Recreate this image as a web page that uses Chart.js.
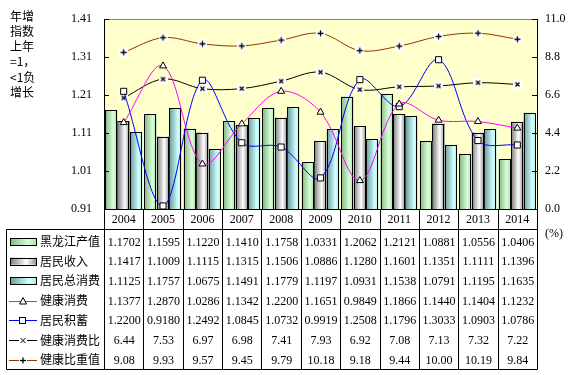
<!DOCTYPE html>
<html><head><meta charset="utf-8">
<script src="https://cdn.jsdelivr.net/npm/chart.js@4"></script>
<style>html,body{margin:0;padding:0;background:#fff;}canvas{display:block;}</style>
</head><body>
<canvas id="c" width="577" height="375"></canvas>
<script>
// ---------- data ----------
const years = ['2004','2005','2006','2007','2008','2009','2010','2011','2012','2013','2014'];
const hljOutput   = [1.1702,1.1595,1.1220,1.1410,1.1758,1.0331,1.2062,1.2121,1.0881,1.0556,1.0406];
const income      = [1.1417,1.1009,1.1115,1.1315,1.1506,1.0886,1.1280,1.1601,1.1351,1.1111,1.1396];
const totalCons   = [1.1125,1.1757,1.0675,1.1491,1.1779,1.1197,1.0931,1.1538,1.0791,1.1195,1.1635];
const healthCons  = [1.1377,1.2870,1.0286,1.1342,1.2200,1.1651,0.9849,1.1866,1.1440,1.1404,1.1232];
const savings     = [1.2200,0.9180,1.2492,1.0845,1.0732,0.9919,1.2508,1.1796,1.3033,1.0903,1.0786];
const healthRatio = [6.44,7.53,6.97,6.98,7.41,7.93,6.92,7.08,7.13,7.32,7.22];
const healthWeight= [9.08,9.93,9.57,9.45,9.79,10.18,9.18,9.44,10.00,10.19,9.84];
const leftTicks  = [0.91,1.01,1.11,1.21,1.31,1.41];
const rightTicks = [0,2.2,4.4,6.6,8.8,11];
const seriesNames = ['黑龙江产值','居民收入','居民总消费','健康消费','居民积蓄','健康消费比','健康比重值'];
const yTitleLines = ['年增','指数','上年','=1，','<1负','增长'];
const unitLabel = '(%)';

// ---------- styles ----------
const NUM_FONT = '12px "Liberation Serif"';
const CJK_FONT = '12px "Noto Sans CJK SC"';
const barGrads = [
  [[0,'#86b486'],[0.65,'#d6ffd6'],[1,'#b4dcb4']],
  [[0,'#7a7a7a'],[0.6,'#ffffff'],[1,'#8c8c8c']],
  [[0,'#6a9a9a'],[0.7,'#d2ffff'],[1,'#b4e6e6']]
];
function markImg(kind){
  const c=document.createElement('canvas'); c.width=9; c.height=9;
  const g=c.getContext('2d'); g.fillStyle='#fff'; g.fillRect(0,0,9,9);
  g.strokeStyle='#000'; g.lineWidth=1.3; g.beginPath();
  if(kind==='x'){g.moveTo(2.5,2.5);g.lineTo(6.5,6.5);g.moveTo(6.5,2.5);g.lineTo(2.5,6.5);}
  else {g.moveTo(4.5,1.5);g.lineTo(4.5,7.5);g.moveTo(1.5,4.5);g.lineTo(7.5,4.5);}
  g.stroke(); return c;
}
const xImg = markImg('x'), plusImg = markImg('+');

const rows = [
  {data:hljOutput, dec:4, key:'bar', k:0},
  {data:income, dec:4, key:'bar', k:1},
  {data:totalCons, dec:4, key:'bar', k:2},
  {data:healthCons, dec:4, key:'line', color:'#ff00ff', mark:'tri'},
  {data:savings, dec:4, key:'line', color:'#0000ff', mark:'sq'},
  {data:healthRatio, dec:2, key:'line', color:'#000000', mark:'x'},
  {data:healthWeight, dec:2, key:'line', color:'#993300', mark:'+'}
];

function hGrad(ctx, x0, x1, stops){
  const g = ctx.createLinearGradient(x0,0,x1,0);
  stops.forEach(s=>g.addColorStop(s[0],s[1]));
  return g;
}

const decoPlugin = {
  id:'deco',
  beforeDraw(chart){
    const {ctx, chartArea:ca} = chart;
    ctx.save(); ctx.fillStyle='#ffffcc';
    ctx.fillRect(ca.left, ca.top, ca.right-ca.left, ca.bottom-ca.top);
    ctx.restore();
  },
  beforeDatasetDraw(chart, args){
    const ds = chart.data.datasets[args.index];
    if (ds.type !== 'bar') return;
    const ctx = chart.ctx, ca = chart.chartArea;
    ctx.save();
    ctx.beginPath(); ctx.rect(ca.left, ca.top, ca.right-ca.left, ca.bottom-ca.top); ctx.clip();
    args.meta.data.forEach(el=>{
      const {x,y,base,width} = el.getProps(['x','y','base','width'], true);
      const b = Math.min(base, ca.bottom);
      const l = x - width/2, r = x + width/2;
      const top = Math.min(y,b), h = Math.abs(b-y);
      ctx.fillStyle = hGrad(ctx, l, r, barGrads[ds.gradIndex]);
      ctx.fillRect(l, top, width, h);
      ctx.strokeStyle='#000'; ctx.lineWidth=1;
      ctx.strokeRect(Math.round(l)+0.5, Math.round(top)+0.5, Math.round(width)-1, Math.round(h)+1);
    });
    ctx.restore();
    return false;
  },
  afterDraw(chart){
    const {ctx, chartArea:ca, scales} = chart;
    const xs = scales.x, ys = scales.y, ys1 = scales.y1;
    const n = years.length;
    const cw = (ca.right - ca.left)/n;
    const tableTop = 229.5, tableBottom = 369.5, tableLeft = 6.5;
    const rowH = 19.7, row0 = 241.5;
    const line=(a,b,c,d)=>{ctx.beginPath();ctx.moveTo(a,b);ctx.lineTo(c,d);ctx.stroke();};
    ctx.save();
    // top border gray
    ctx.strokeStyle='#808080'; ctx.lineWidth=1;
    line(ca.left, Math.round(ca.top)+0.5, ca.right, Math.round(ca.top)+0.5);
    // inward ticks
    ctx.strokeStyle='#000';
    leftTicks.forEach(v=>{const y=Math.round(ys.getPixelForValue(v))+0.5; line(ca.left, y, ca.left+5, y);});
    rightTicks.forEach(v=>{const y=Math.round(ys1.getPixelForValue(v))+0.5; line(ca.right-5, y, ca.right, y);});
    // table grid
    for(let i=0;i<=n;i++){
      const xp = i<n ? xs.getPixelForValue(i) - cw/2 : xs.getPixelForValue(n-1) + cw/2;
      const x = Math.round(xp)+0.5;
      line(x, ca.bottom, x, tableBottom);
    }
    line(tableLeft, tableTop, ca.right+0.5, tableTop);
    line(tableLeft, tableBottom, ca.right+0.5, tableBottom);
    line(tableLeft, tableTop, tableLeft, tableBottom);
    // values
    ctx.fillStyle='#000'; ctx.textBaseline='middle';
    rows.forEach((r,ri)=>{
      const y = row0 + ri*rowH;
      ctx.font = NUM_FONT; ctx.textAlign='center'; ctx.fillStyle='#000';
      r.data.forEach((v,i)=>{ ctx.fillText(v.toFixed(r.dec), xs.getPixelForValue(i)+0.5, y+1); });
      // legend key
      if (r.key==='bar'){
        ctx.fillStyle = hGrad(ctx, 10, 37, barGrads[r.k]);
        ctx.fillRect(10, y-3.5, 27, 7);
        ctx.strokeStyle='#000'; ctx.strokeRect(10.5, Math.round(y-3.5)+0.5, 26, 7);
      } else {
        ctx.strokeStyle=r.color; ctx.lineWidth=1;
        const yy = Math.round(y)+0.5;
        line(9, yy, 37, yy);
        ctx.strokeStyle='#000'; ctx.fillStyle='#fff';
        if (r.mark==='tri'){ ctx.beginPath(); ctx.moveTo(23,yy-4); ctx.lineTo(26.5,yy+2.5); ctx.lineTo(19.5,yy+2.5); ctx.closePath(); ctx.fill(); ctx.stroke(); }
        else if (r.mark==='sq'){ ctx.fillRect(19.5,yy-3,6,6); ctx.strokeRect(19.5,yy-3,6,6); }
        else if (r.mark==='x'){ ctx.fillRect(19,yy-4,8,8); line(20.5,yy-2.5,25.5,yy+2.5); line(25.5,yy-2.5,20.5,yy+2.5); }
        else { ctx.fillRect(19,yy-4,8,8); ctx.lineWidth=1.3; line(23,yy-3,23,yy+3); line(20,yy,26,yy); ctx.lineWidth=1; }
      }
      ctx.fillStyle='#000'; ctx.font = CJK_FONT; ctx.textAlign='left';
      ctx.fillText(seriesNames[ri], 40, y);
    });
    // left title
    ctx.font = CJK_FONT; ctx.textAlign='left';
    yTitleLines.forEach((t,i)=>ctx.fillText(t, 10, 16 + i*15.3));
    // unit
    ctx.font = NUM_FONT;
    ctx.fillText(unitLabel, 545, 234);
    ctx.restore();
  }
};

const lineBase = {type:'line', borderWidth:1, fill:false, tension:0.35, order:0, pointBorderColor:'#000', pointBackgroundColor:'#fff', pointBorderWidth:1};

new Chart(document.getElementById('c'), {
  data:{
    labels: years,
    datasets:[
      {type:'bar', label:seriesNames[0], data:hljOutput, yAxisID:'y', gradIndex:0, order:1, base:leftTicks[0], backgroundColor:'#ccffcc'},
      {type:'bar', label:seriesNames[1], data:income, yAxisID:'y', gradIndex:1, order:1, base:leftTicks[0], backgroundColor:'#ffffff'},
      {type:'bar', label:seriesNames[2], data:totalCons, yAxisID:'y', gradIndex:2, order:1, base:leftTicks[0], backgroundColor:'#ccffff'},
      Object.assign({}, lineBase, {label:seriesNames[3], data:healthCons, yAxisID:'y', borderColor:'#ff00ff', pointStyle:'triangle', pointRadius:4}),
      Object.assign({}, lineBase, {label:seriesNames[4], data:savings, yAxisID:'y', borderColor:'#0000ff', pointStyle:'rect', pointRadius:4.3}),
      Object.assign({}, lineBase, {label:seriesNames[5], data:healthRatio, yAxisID:'y1', borderColor:'#000000', pointStyle:xImg, pointRadius:4}),
      Object.assign({}, lineBase, {label:seriesNames[6], data:healthWeight, yAxisID:'y1', borderColor:'#993300', pointStyle:plusImg, pointRadius:4})
    ]
  },
  options:{
    responsive:false, animation:false, events:[],
    layout:{padding:{top:15,left:0,right:0,bottom:0}},
    datasets:{bar:{categoryPercentage:0.95, barPercentage:1}},
    plugins:{legend:{display:false}, tooltip:{enabled:false}},
    scales:{
      x:{type:'category', offset:true, grid:{display:false, drawTicks:false}, border:{display:true,color:'#000',width:1},
         ticks:{color:'#000', font:{family:'Liberation Serif', size:12}, padding:4, maxRotation:0},
         afterFit(s){ s.height = 166; }},
      y:{position:'left', min:0.91, max:1.41, grid:{display:false, drawTicks:false}, border:{display:true,color:'#000',width:1},
         ticks:{color:'#000', font:{family:'Liberation Serif', size:12}, padding:12, callback:v=>Number(v).toFixed(2)},
         afterBuildTicks(s){ s.ticks = leftTicks.map(v=>({value:v})); },
         afterFit(s){ s.width = 104; }},
      y1:{position:'right', min:0, max:11, grid:{display:false, drawTicks:false}, border:{display:true,color:'#000',width:1},
         ticks:{color:'#000', font:{family:'Liberation Serif', size:12}, padding:8, callback:v=>Number(v).toFixed(1)},
         afterBuildTicks(s){ s.ticks = rightTicks.map(v=>({value:v})); },
         afterFit(s){ s.width = 40; }}
    }
  },
  plugins:[decoPlugin]
});
</script>
</body></html>
